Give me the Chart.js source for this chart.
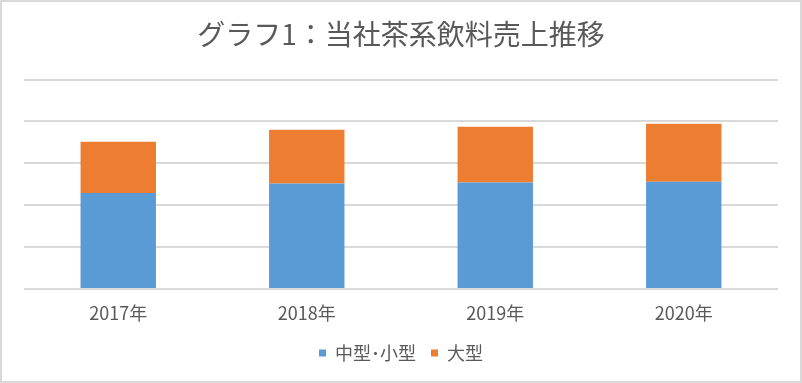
<!DOCTYPE html>
<html lang="ja">
<head>
<meta charset="utf-8">
<script src="https://cdn.jsdelivr.net/npm/chart.js@4.4.1/dist/chart.umd.min.js"></script>
<style>
    html, body { margin: 0; padding: 0; background: #fff; }
    #wrap {
        width: 802px;
        height: 383px;
        box-sizing: border-box;
        border: 2px solid #d9d9d9;
        background: #fff;
    }
</style>
</head>
<body>
<div id="wrap"><canvas id="myChart"></canvas></div>
<script>
const years = ['2017年', '2018年', '2019年', '2020年'];
const smallMid = [45.9, 50.4, 50.9, 51.2];
const large = [24.4, 25.7, 26.6, 27.7];

const titleText = 'グラフ1：当社茶系飲料売上推移';
const seriesNames = ['中型･小型', '大型'];

const fontFamily = "'Noto Sans CJK JP', 'Noto Sans', sans-serif";
const textColor = '#595959';

const ctx = document.getElementById('myChart');

const chart = new Chart(ctx, {
    type: 'bar',
    data: {
        labels: years,
        datasets: [{
            label: seriesNames[0],
            data: smallMid,
            backgroundColor: '#5B9BD5',
            barPercentage: 0.4,
            categoryPercentage: 1
        }, {
            label: seriesNames[1],
            data: large,
            backgroundColor: '#ED7D31',
            barPercentage: 0.4,
            categoryPercentage: 1
        }]
    },
    options: {
        responsive: true,
        maintainAspectRatio: false,
        animation: false,
        layout: {
            padding: { left: 22, right: 22, top: 0, bottom: 9 }
        },
        scales: {
            x: {
                stacked: true,
                grid: { display: false, drawTicks: false },
                border: { display: false },
                ticks: {
                    padding: 13,
                    color: textColor,
                    font: { family: fontFamily, size: 18 }
                },
                afterFit: (scale) => { scale.height = 40; }
            },
            y: {
                stacked: true,
                min: 0,
                max: 100,
                ticks: { display: false, stepSize: 20 },
                grid: { color: '#d9d9d9', lineWidth: 2, drawTicks: false },
                border: { display: false }
            }
        },
        plugins: {
            title: {
                display: true,
                text: titleText,
                color: textColor,
                font: { family: fontFamily, size: 28, weight: 'normal' },
                padding: { top: 16, bottom: 28 }
            },
            legend: {
                position: 'bottom',
                labels: {
                    boxWidth: 7,
                    boxHeight: 7,
                    padding: 15,
                    color: textColor,
                    font: { family: fontFamily, size: 18 }
                }
            },
            tooltip: { enabled: false }
        }
    }
});
</script>
</body>
</html>
